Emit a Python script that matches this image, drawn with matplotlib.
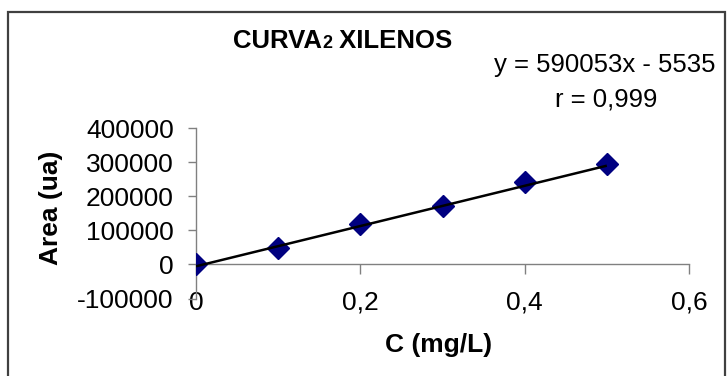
import numpy as np
import matplotlib
matplotlib.use("Agg")
import matplotlib.pyplot as plt
from matplotlib.patches import Rectangle
from matplotlib.offsetbox import TextArea, HPacker, AnnotationBbox

# Calibration data
conc = [0.0, 0.1, 0.2, 0.3, 0.4, 0.5]
area = [2000, 49000, 119000, 172000, 241000, 294000]
slope = 590053
intercept = -5535
r_value = "0,999"

xticks = [0, 0.2, 0.4, 0.6]
xticklabels = ["0", "0,2", "0,4", "0,6"]
yticks = [-100000, 0, 100000, 200000, 300000, 400000]

plt.rcParams['font.family'] = ['Liberation Sans', 'DejaVu Sans']

W, H = 727, 376
fig = plt.figure(figsize=(W / 100, H / 100), dpi=100)

# outer chart frame (right/bottom cut off like the original)
fig.patches.append(Rectangle((8 / W, -0.05), (725 - 8) / W, 1 - 12 / H + 0.05,
                             transform=fig.transFigure, fill=False,
                             edgecolor='#404040', linewidth=1.6))

ax = fig.add_axes([196 / W, (H - 298.5) / H, (689 - 196) / W, (298.5 - 128) / H])
ax.set_xlim(0, 0.6)
ax.set_ylim(-100000, 400000)

ax.plot(conc, area, linestyle='none', marker='D', markersize=11,
        color='#000080', zorder=3)
xfit = np.array([0, max(conc)])
ax.plot(xfit, slope * xfit + intercept, color='black', linewidth=1.8, zorder=4,
        solid_capstyle='butt')

for s in ['top', 'right']:
    ax.spines[s].set_visible(False)
ax.spines['bottom'].set_position(('data', 0))
for s in ['left', 'bottom']:
    ax.spines[s].set_color('#808080')
    ax.spines[s].set_linewidth(1.0)

ax.set_xticks(xticks)
ax.set_xticklabels(xticklabels)
ax.set_yticks(yticks)
ax.set_yticklabels([str(v) for v in yticks])
ax.tick_params(axis='x', direction='out', length=7, width=1.0, color='#808080',
               labelsize=19, pad=12)
ax.tick_params(axis='y', direction='out', length=6, width=1.0, color='#808080',
               labelsize=19, pad=10)

fig.text(439 / W, 1 - 345 / H, "C (mg/L)", ha='center', va='center',
         fontsize=19, fontweight='bold')
fig.text(51 / W, 1 - 208 / H, "Area (ua)", ha='center', va='center',
         rotation=90, fontsize=19, fontweight='bold')

# title with the small "2"
title = HPacker(children=[
    TextArea("CURVA", textprops=dict(fontsize=18.5, fontweight='bold')),
    TextArea("2", textprops=dict(fontsize=13, fontweight='bold')),
    TextArea(" XILENOS", textprops=dict(fontsize=18.5, fontweight='bold')),
], align='baseline', pad=0, sep=0)
fig.add_artist(AnnotationBbox(title, (343 / W, 1 - 41 / H), xycoords='figure fraction',
                              box_alignment=(0.5, 0.5), frameon=False))

fig.text(605 / W, 1 - 65 / H, "y = %dx - %d" % (slope, -intercept),
         ha='center', va='center', fontsize=18.5)
fig.text(606 / W, 1 - 99 / H, "r = " + r_value, ha='center', va='center',
         fontsize=18.5)

fig.savefig("out.png", dpi=100)
